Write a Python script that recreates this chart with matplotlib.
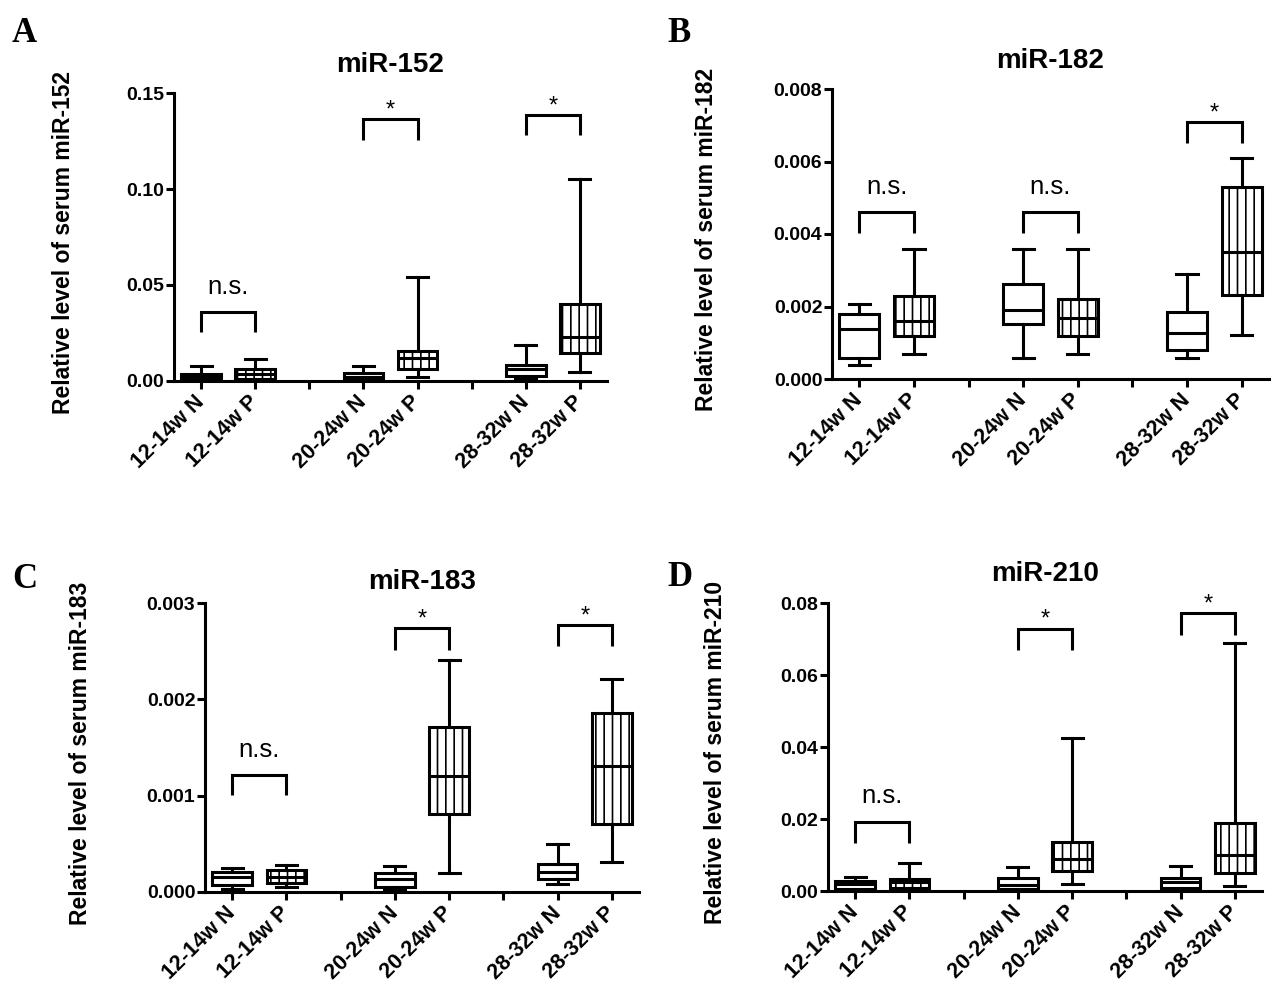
import matplotlib.pyplot as plt

plt.rcParams['font.family'] = ['Liberation Sans', 'DejaVu Sans']
plt.rcParams['hatch.linewidth'] = 1.2

groups = ['12-14w N', '12-14w P', '20-24w N', '20-24w P', '28-32w N', '28-32w P']
positions = [1, 2, 4, 5, 7, 8]

# min, q1, median, q3, max for each group
mir152 = [[0.0002, 0.0008, 0.0020, 0.0038, 0.0080],
          [0.0005, 0.0010, 0.0036, 0.0060, 0.0113],
          [0.0002, 0.0007, 0.0020, 0.0040, 0.0080],
          [0.0023, 0.0060, 0.0118, 0.0158, 0.0543],
          [0.0014, 0.0028, 0.0060, 0.0082, 0.0190],
          [0.0049, 0.0144, 0.0227, 0.0401, 0.1050]]
mir182 = [[0.00038, 0.00058, 0.00139, 0.00178, 0.00208],
          [0.00068, 0.00118, 0.00159, 0.00229, 0.00360],
          [0.00059, 0.00153, 0.00190, 0.00261, 0.00360],
          [0.00068, 0.00118, 0.00169, 0.00220, 0.00360],
          [0.00059, 0.00079, 0.00127, 0.00185, 0.00291],
          [0.00121, 0.00231, 0.00351, 0.00531, 0.00609]]
mir183 = [[0.00003, 0.00007, 0.00016, 0.00021, 0.00025],
          [0.00005, 0.00009, 0.00016, 0.00023, 0.00028],
          [0.00002, 0.00005, 0.00014, 0.00020, 0.00027],
          [0.00020, 0.00081, 0.00120, 0.00171, 0.00241],
          [0.00008, 0.00013, 0.00021, 0.00029, 0.00050],
          [0.00031, 0.00071, 0.00131, 0.00186, 0.00221]]
mir210 = [[0.0001, 0.0005, 0.0019, 0.0028, 0.0040],
          [0.0003, 0.0007, 0.0026, 0.0033, 0.0079],
          [0.0002, 0.0006, 0.0017, 0.0035, 0.0068],
          [0.0019, 0.0056, 0.0088, 0.0137, 0.0426],
          [0.0002, 0.0007, 0.0024, 0.0035, 0.0070],
          [0.0014, 0.0049, 0.0100, 0.0188, 0.0689]]

sig152 = ['n.s.', '*', '*']
sig182 = ['n.s.', 'n.s.', '*']
sig183 = ['n.s.', '*', '*']
sig210 = ['n.s.', '*', '*']

# bracket bar / leg heights (data units) for each pair
brk152 = [(0.0358, 0.0253), (0.1365, 0.1255), (0.1385, 0.1280)]
brk182 = [(0.00461, 0.00402), (0.00461, 0.00402), (0.00709, 0.00650)]
brk183 = [(0.00121, 0.00101), (0.00274, 0.00251), (0.00277, 0.00255)]
brk210 = [(0.0193, 0.0134), (0.0729, 0.0670), (0.0772, 0.0712)]

yticks152 = [0.00, 0.05, 0.10, 0.15]
yticks182 = [0.000, 0.002, 0.004, 0.006, 0.008]
yticks183 = [0.000, 0.001, 0.002, 0.003]
yticks210 = [0.00, 0.02, 0.04, 0.06, 0.08]

W, H = 1287, 1007
fig = plt.figure(figsize=(W / 100, H / 100), dpi=100)

LW = 2.2


def px_rect(left, right, top, bottom):
    return [left / W, 1 - bottom / H, (right - left) / W, (bottom - top) / H]


def draw_panel(rect, name, stats, sigs, brks, yticks, fmt, letter, letter_xy, ylab_x, tpad):
    ax = fig.add_axes(rect)
    bxp_stats = []
    for g, s in zip(groups, stats):
        bxp_stats.append({'label': g, 'whislo': s[0], 'q1': s[1], 'med': s[2],
                          'q3': s[3], 'whishi': s[4], 'fliers': []})
    res = ax.bxp(bxp_stats, positions=positions, widths=0.73, capwidths=0.39,
                 patch_artist=True, showfliers=False, manage_ticks=False,
                 boxprops=dict(linewidth=LW, edgecolor='black', facecolor='white'),
                 whiskerprops=dict(linewidth=LW, color='black'),
                 capprops=dict(linewidth=LW, color='black'),
                 medianprops=dict(linewidth=LW, color='black'))
    for i, box in enumerate(res['boxes']):
        if groups[i].endswith('P'):
            box.set_hatch('||')

    ax.set_xlim(0.5, 8.5)
    ax.set_ylim(yticks[0], yticks[-1])
    ax.set_xticks(range(1, 9))
    labels = ['12-14w N', '12-14w P', '', '20-24w N', '20-24w P', '', '28-32w N', '28-32w P']
    ax.set_xticklabels(labels, rotation=45, ha='right', va='center',
                       rotation_mode='anchor', fontsize=15.5, fontweight='bold')
    ax.set_yticks(yticks)
    ax.set_yticklabels([fmt.format(v) for v in yticks], fontsize=14, fontweight='bold')
    ax.tick_params(axis='both', width=LW, length=6, color='black')
    ax.tick_params(axis='y', pad=1)
    ax.tick_params(axis='x', pad=7)
    for side in ['top', 'right']:
        ax.spines[side].set_visible(False)
    for side in ['left', 'bottom']:
        ax.spines[side].set_linewidth(LW)
    ax.spines['bottom'].set_zorder(5)

    ax.set_title(name, fontsize=20, fontweight='bold', pad=tpad)
    ax.set_ylabel('Relative level of serum ' + name, fontsize=16.5, fontweight='bold')
    ax.yaxis.set_label_coords((ylab_x - rect[0] * W) / (rect[2] * W), 0.48)

    for k, (lab, (bar, leg)) in enumerate(zip(sigs, brks)):
        x1, x2 = positions[2 * k], positions[2 * k + 1]
        ax.plot([x1, x1, x2, x2], [leg, bar, bar, leg], color='black', lw=LW,
                clip_on=False, solid_capstyle='butt', solid_joinstyle='miter')
        if lab == '*':
            ax.annotate(lab, ((x1 + x2) / 2, bar), xytext=(0, 2),
                        textcoords='offset points', ha='center', va='baseline',
                        fontsize=17)
        else:
            ax.annotate(lab, ((x1 + x2) / 2, bar), xytext=(0, 13),
                        textcoords='offset points', ha='center', va='baseline',
                        fontsize=18.5)

    fig.text(letter_xy[0] / W, 1 - letter_xy[1] / H, letter, fontsize=25,
             fontweight='bold', family='Liberation Serif', ha='left', va='center')
    return ax


draw_panel(px_rect(174, 607, 93, 381), 'miR-152', mir152, sig152, brk152,
           yticks152, '{:.2f}', 'A', (12, 34), 75, 15)
draw_panel(px_rect(832, 1269, 89, 379), 'miR-182', mir182, sig182, brk182,
           yticks182, '{:.3f}', 'B', (667, 33), 718, 15)
draw_panel(px_rect(205, 639, 603, 892), 'miR-183', mir183, sig183, brk183,
           yticks183, '{:.3f}', 'C', (12, 580), 92, 10)
draw_panel(px_rect(828, 1262, 603, 891), 'miR-210', mir210, sig210, brk210,
           yticks210, '{:.2f}', 'D', (667, 578), 727, 16)

fig.savefig('out.png', dpi=100)
